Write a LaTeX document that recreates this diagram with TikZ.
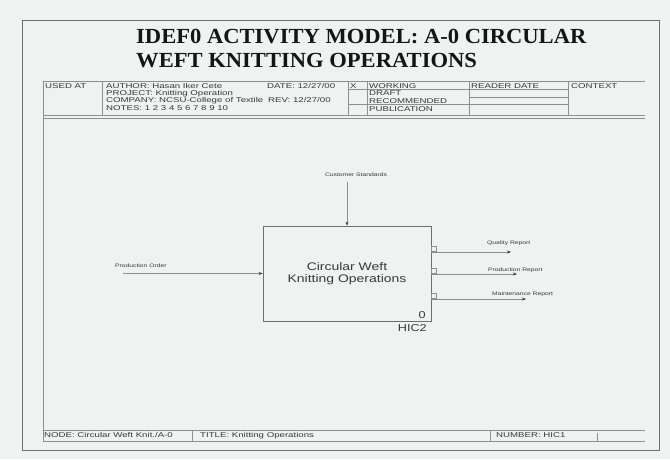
\documentclass[tikz,border=0pt]{standalone}
\usepackage{fontspec}
\setmainfont{Liberation Sans}
\newfontfamily\formfont[FakeStretch=1.38]{Liberation Sans}
\newfontfamily\boxfont[FakeStretch=1.27]{Liberation Sans}
\newfontfamily\tinyfont[FakeStretch=1.35]{Liberation Sans}
\newfontfamily\headfont[FakeStretch=1.05]{Liberation Serif}
\usetikzlibrary{arrows.meta}

\definecolor{paper}{HTML}{EEF2F1}
\definecolor{rule}{HTML}{8E8E8E}
\definecolor{frame}{HTML}{6E6E6E}
\definecolor{ink}{HTML}{383838}
\definecolor{headink}{HTML}{151515}

\begin{document}
\begin{tikzpicture}[x=1pt,y=-1pt,
  formtext/.style={anchor=base west, inner sep=0pt, text=ink,
    font=\formfont\fontsize{7}{8}\selectfont},
  headline/.style={anchor=base west, inner sep=0pt, text=headink,
    font=\headfont\bfseries\fontsize{21.5}{26}\selectfont},
  gridline/.style={draw=rule, line width=0.5pt},
  activity/.style={draw=frame, line width=0.7pt, inner sep=0pt,
    minimum width=168pt, minimum height=95pt, align=center, text=ink,
    font=\boxfont\fontsize{11}{12.5}\selectfont},
  boxtag/.style={anchor=base east, inner sep=0pt, text=ink,
    font=\boxfont\fontsize{10}{12}\selectfont},
  arrowlabel/.style={inner sep=0pt, text=ink,
    font=\tinyfont\fontsize{5}{6}\selectfont},
  flow/.style={draw=rule, line width=0.6pt,
    -{Stealth[length=4pt,width=3pt,color=ink,fill=ink]}},
  stub/.style={draw=rule, line width=0.4pt, inner sep=0pt,
    minimum width=5pt, minimum height=5pt}
]
% sheet and outer frame
\fill[paper] (0,0) rectangle (670,459);
\useasboundingbox (0,0) rectangle (670,459);
\draw[frame, line width=0.8pt] (22,20) rectangle (659,450);

% title
\node[headline] (title1) at (136,43) {IDEF0 ACTIVITY MODEL: A-0 CIRCULAR};
\node[headline] (title2) at (136,67) {WEFT KNITTING OPERATIONS};

% header form rules
\draw[gridline] (43,81) -- (645,81);
\draw[gridline] (43,81) -- (43,441);
\draw[gridline] (102,81) -- (102,115);
\draw[gridline] (348,81) -- (348,115);
\draw[gridline] (367,81) -- (367,115);
\draw[gridline] (469,81) -- (469,115);
\draw[gridline] (568,81) -- (568,115);
\draw[gridline] (348,89) -- (568,89);
\draw[gridline] (469,97.5) -- (568,97.5);
\draw[gridline] (348,104.5) -- (568,104.5);
\draw[gridline] (43,115) -- (645,115);
\draw[gridline] (43,118) -- (645,118);

% header form text
\node[formtext] (usedat) at (45,88) {USED AT};
\node[formtext] (author) at (106,88) {AUTHOR: Hasan Iker Cete};
\node[formtext] (project) at (106,95.3) {PROJECT: Knitting Operation};
\node[formtext] (company) at (106,102.7) {COMPANY: NCSU-College of Textile};
\node[formtext] (notes) at (106,110.3) {NOTES: 1 2 3 4 5 6 7 8 9 10};
\node[formtext] (date) at (267,88) {DATE: 12/27/00};
\node[formtext] (rev) at (268,102.7) {REV: 12/27/00};
\node[formtext] (mark) at (350,88) {X};
\node[formtext] (working) at (369,88) {WORKING};
\node[formtext] (draft) at (369,95.5) {DRAFT};
\node[formtext] (recommended) at (369,103) {RECOMMENDED};
\node[formtext] (publication) at (369,111.3) {PUBLICATION};
\node[formtext] (reader) at (471,88) {READER DATE};
\node[formtext] (context) at (571,88) {CONTEXT};

% footer form
\draw[gridline] (43,430) -- (645,430);
\draw[gridline] (43,441) -- (645,441);
\draw[gridline] (192,430) -- (192,441);
\draw[gridline] (490,430) -- (490,441);
\draw[gridline] (597,433) -- (597,441);
\node[formtext] (nodeid) at (44,437.5) {NODE: Circular Weft Knit./A-0};
\node[formtext] (sheettitle) at (200,437.5) {TITLE: Knitting Operations};
\node[formtext] (number) at (496,437.5) {NUMBER: HIC1};

% activity box
\node[activity] (act) at (347,273.5) {Circular Weft\\Knitting Operations};
\node[boxtag] (boxno) at (426,318) {0};
\node[boxtag] (boxref) at (427,331) {HIC2};

% control
\coordinate (ctrl) at (347,182);
\node[arrowlabel, anchor=base] (ctrllbl) at (356,176) {Customer Standards};
\draw[flow] (ctrl) -- (act.north);

% input
\coordinate (inp) at (123,273.5);
\node[arrowlabel, anchor=base west] (inplbl) at (115,267) {Production Order};
\draw[flow] (inp) -- (act.west);

% outputs
\coordinate (out1) at (511,252);
\coordinate (out2) at (517,274);
\coordinate (out3) at (526,299);
\node[stub, anchor=south west] (stub1) at ([yshift=1pt]act.east |- out1) {};
\node[stub, anchor=south west] (stub2) at ([yshift=1pt]act.east |- out2) {};
\node[stub, anchor=south west] (stub3) at ([yshift=1pt]act.east |- out3) {};
\draw[flow] (act.east |- out1) -- (out1);
\draw[flow] (act.east |- out2) -- (out2);
\draw[flow] (act.east |- out3) -- (out3);
\node[arrowlabel, anchor=base west] (outlbl1) at (487,244) {Quality Report};
\node[arrowlabel, anchor=base west] (outlbl2) at (488,271) {Production Report};
\node[arrowlabel, anchor=base west] (outlbl3) at (492,295) {Maintenance Report};
\end{tikzpicture}
\end{document}
